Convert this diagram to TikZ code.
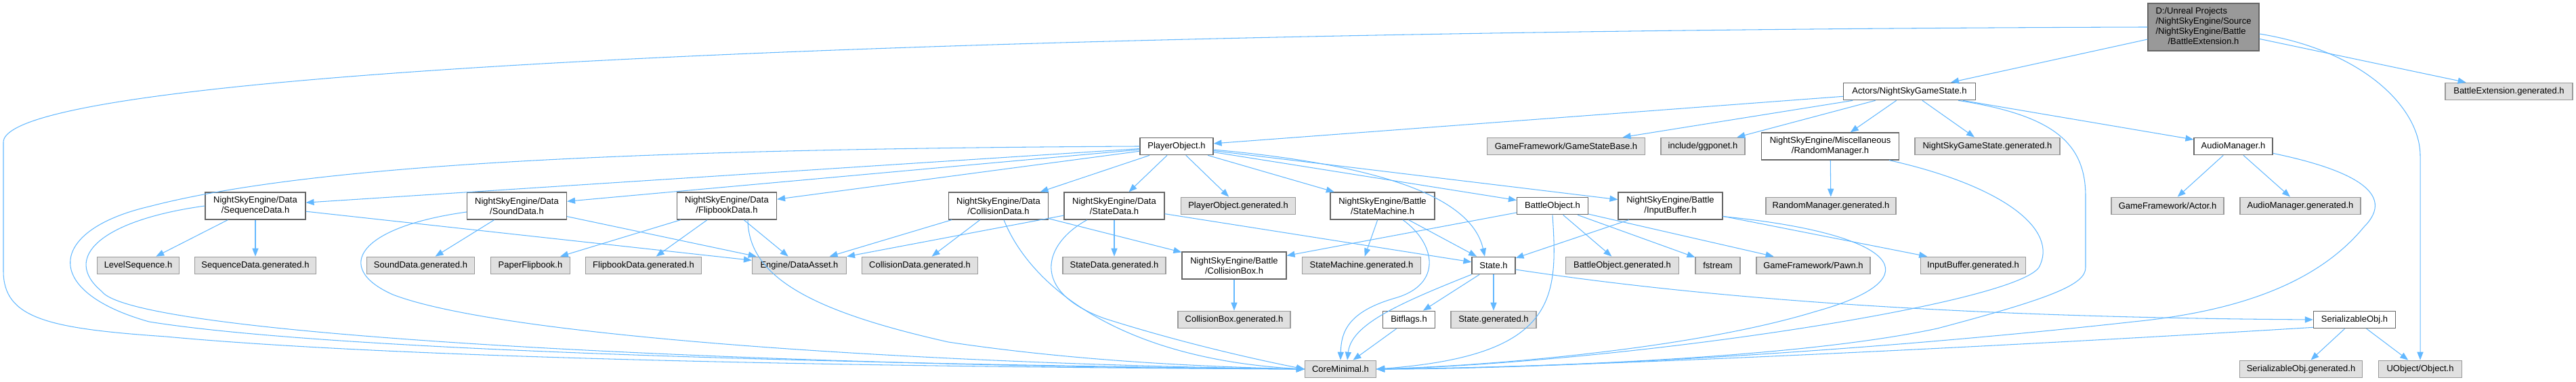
\documentclass[tikz,border=0pt]{standalone}
\usepackage{fontspec}
\setmainfont{Liberation Sans}
\usetikzlibrary{arrows.meta}
\definecolor{linkblue}{HTML}{63B8FF}
\definecolor{nodeborder}{HTML}{666666}
\definecolor{extborder}{HTML}{999999}
\definecolor{extfill}{HTML}{E0E0E0}
\definecolor{rootfill}{HTML}{999999}

\begin{document}
\begin{tikzpicture}[
    every node/.style={font=\fontsize{3.7}{4.3}\selectfont, inner sep=0pt, minimum height=0.255cm, line width=0.35pt},
    file/.style={draw=nodeborder, fill=white},
    extfile/.style={draw=extborder, fill=extfill},
    rootfile/.style={draw=nodeborder, fill=rootfill, minimum height=0.70cm},
    twoline/.style={minimum height=0.40cm, align=center},
    link/.style={draw=linkblue, line width=0.3pt, -{Triangle[length=3.4pt,width=2.6pt]}}
  ]
  \useasboundingbox (0,0) rectangle (38.03,-5.64);

  % Root file
  \node[rootfile, minimum width=1.64cm] (root) at (32.53,-0.40)
    {\begin{tabular}{@{}l@{}}D:/Unreal Projects\\/NightSkyEngine/Source\\/NightSkyEngine/Battle\\\multicolumn{1}{@{}c@{}}{/BattleExtension.h}\end{tabular}};

  % Row 1
  \node[file, minimum width=1.95cm] (gamestate) at (28.19,-1.35) {Actors/NightSkyGameState.h};
  \node[extfile, minimum width=1.88cm] (extgen) at (37.04,-1.35) {BattleExtension.generated.h};

  % Row 2
  \node[file, minimum width=1.08cm] (player) at (17.37,-2.16) {PlayerObject.h};
  \node[extfile, minimum width=2.33cm] (gsbase) at (23.12,-2.16) {GameFramework/GameStateBase.h};
  \node[extfile, minimum width=1.24cm] (ggpo) at (25.14,-2.16) {include/ggponet.h};
  \node[file, twoline, minimum width=2.03cm] (randmgr) at (27.02,-2.16) {NightSkyEngine/Miscellaneous\\/RandomManager.h};
  \node[extfile, minimum width=2.14cm] (gsgen) at (29.34,-2.16) {NightSkyGameState.generated.h};
  \node[file, minimum width=1.16cm] (audiomgr) at (32.97,-2.16) {AudioManager.h};

  % Row 3
  \node[file, twoline, minimum width=1.48cm] (seq) at (3.77,-3.04) {NightSkyEngine/Data\\/SequenceData.h};
  \node[file, twoline, minimum width=1.47cm] (sound) at (7.63,-3.04) {NightSkyEngine/Data\\/SoundData.h};
  \node[file, twoline, minimum width=1.47cm] (flipbook) at (10.73,-3.04) {NightSkyEngine/Data\\/FlipbookData.h};
  \node[file, twoline, minimum width=1.47cm] (colldata) at (14.74,-3.04) {NightSkyEngine/Data\\/CollisionData.h};
  \node[file, twoline, minimum width=1.48cm] (statedata) at (16.45,-3.04) {NightSkyEngine/Data\\/StateData.h};
  \node[extfile, minimum width=1.69cm] (playergen) at (18.28,-3.04) {PlayerObject.generated.h};
  \node[file, twoline, minimum width=1.54cm] (statemach) at (20.41,-3.04) {NightSkyEngine/Battle\\/StateMachine.h};
  \node[file, minimum width=1.05cm] (battleobj) at (22.92,-3.04) {BattleObject.h};
  \node[file, twoline, minimum width=1.54cm] (inputbuf) at (24.66,-3.04) {NightSkyEngine/Battle\\/InputBuffer.h};
  \node[extfile, minimum width=1.92cm] (randgen) at (27.03,-3.04) {RandomManager.generated.h};
  \node[extfile, minimum width=1.66cm] (actor) at (32.00,-3.04) {GameFramework/Actor.h};
  \node[extfile, minimum width=1.78cm] (audiogen) at (33.96,-3.04) {AudioManager.generated.h};

  % Row 4
  \node[extfile, minimum width=1.21cm] (levelseq) at (2.04,-3.92) {LevelSequence.h};
  \node[extfile, minimum width=1.79cm] (seqgen) at (3.77,-3.92) {SequenceData.generated.h};
  \node[extfile, minimum width=1.59cm] (soundgen) at (6.21,-3.92) {SoundData.generated.h};
  \node[extfile, minimum width=1.17cm] (paperfb) at (7.83,-3.92) {PaperFlipbook.h};
  \node[extfile, minimum width=1.71cm] (fbgen) at (9.50,-3.92) {FlipbookData.generated.h};
  \node[extfile, minimum width=1.39cm] (dataasset) at (11.80,-3.92) {Engine/DataAsset.h};
  \node[extfile, minimum width=1.71cm] (collgen) at (13.58,-3.92) {CollisionData.generated.h};
  \node[extfile, minimum width=1.52cm] (sdgen) at (16.45,-3.92) {StateData.generated.h};
  \node[file, twoline, minimum width=1.54cm] (collbox) at (18.22,-3.92) {NightSkyEngine/Battle\\/CollisionBox.h};
  \node[extfile, minimum width=1.75cm] (smgen) at (20.10,-3.92) {StateMachine.generated.h};
  \node[file, minimum width=0.64cm] (state) at (22.05,-3.92) {State.h};
  \node[extfile, minimum width=1.67cm] (bogen) at (23.95,-3.92) {BattleObject.generated.h};
  \node[extfile, minimum width=0.66cm] (fstream) at (25.36,-3.92) {fstream};
  \node[extfile, minimum width=1.68cm] (pawn) at (26.77,-3.92) {GameFramework/Pawn.h};
  \node[extfile, minimum width=1.55cm] (inputgen) at (29.13,-3.92) {InputBuffer.generated.h};

  % Row 5
  \node[extfile, minimum width=1.66cm] (cbgen) at (18.22,-4.72) {CollisionBox.generated.h};
  \node[file, minimum width=0.77cm] (bitflags) at (20.80,-4.72) {Bitflags.h};
  \node[extfile, minimum width=1.26cm] (stategen) at (22.05,-4.72) {State.generated.h};
  \node[file, minimum width=1.21cm] (serobj) at (34.76,-4.72) {SerializableObj.h};

  % Row 6
  \node[extfile, minimum width=1.05cm] (coremin) at (19.79,-5.45) {CoreMinimal.h};
  \node[extfile, minimum width=1.81cm] (serobjgen) at (33.97,-5.45) {SerializableObj.generated.h};
  \node[extfile, minimum width=1.23cm] (uobject) at (35.73,-5.45) {UObject/Object.h};

  % BattleExtension.h
  \draw[link] (root) -- (gamestate);
  \draw[link] (root) -- (extgen);
  \draw[link] ([yshift=-0.1cm]root.east) .. controls (34.9,-0.75) and (35.73,-1.6) .. (35.73,-2.3) -- (uobject);
  \draw[link] (root.west) .. controls (15,-0.45) and (0.05,-1.0) .. (0.05,-2.1) -- (0.05,-4.0)
    .. controls (0.05,-4.7) and (0.7,-4.85) .. (2.45,-4.97) .. controls (6,-5.3) and (13,-5.42) .. (coremin.west);

  % Actors/NightSkyGameState.h
  \draw[link] (gamestate) -- (player);
  \draw[link] (gamestate) -- (gsbase);
  \draw[link] (gamestate) -- (ggpo);
  \draw[link] (gamestate) -- (randmgr);
  \draw[link] (gamestate) -- (gsgen);
  \draw[link] (gamestate) -- (audiomgr);
  \draw[link] ([xshift=0.72cm]gamestate.south) .. controls (30.3,-1.7) and (30.79,-2.1) .. (30.79,-2.9) -- (30.79,-3.95)
    .. controls (30.79,-4.2) and (30.3,-4.4) .. (28.6,-4.85) .. controls (26.5,-5.3) and (22.5,-5.43) .. (coremin.east);

  % PlayerObject.h
  \draw[link] (player) -- (seq);
  \draw[link] (player) -- (sound);
  \draw[link] (player) -- (flipbook);
  \draw[link] (player) -- (colldata);
  \draw[link] (player) -- (statedata);
  \draw[link] (player) -- (playergen);
  \draw[link] (player) -- (statemach);
  \draw[link] (player) -- (battleobj);
  \draw[link] (player) -- (inputbuf);
  \draw[link] ([yshift=-0.05cm]player.east) .. controls (20,-2.4) and (21.7,-2.8) .. ([xshift=-0.13cm]state.north);
  \draw[link] (player.west) .. controls (9,-2.2) and (4.5,-2.45) .. (2.2,-3.05) .. controls (0.7,-3.4) and (0.6,-4.3) .. (2.2,-4.75)
    .. controls (5,-5.2) and (13,-5.38) .. (coremin.west);

  % RandomManager.h, AudioManager.h
  \draw[link] (randmgr) -- (randgen);
  \draw[link] ([xshift=0.87cm]randmgr.south) .. controls (29.6,-2.75) and (30.4,-3.4) .. (30.1,-3.95)
    .. controls (29.7,-4.5) and (24,-5.35) .. (coremin.east);
  \draw[link] (audiomgr) -- (actor);
  \draw[link] (audiomgr) -- (audiogen);
  \draw[link] ([yshift=0.03cm]audiomgr.south east) .. controls (34.7,-2.5) and (35.4,-2.85) .. (34.9,-3.35)
    .. controls (34.2,-4.2) and (33,-4.6) .. (31.5,-4.75) .. controls (27,-5.25) and (22.5,-5.45) .. (coremin.east);

  % Data headers
  \draw[link] (seq) -- (levelseq);
  \draw[link] (seq) -- (seqgen);
  \draw[link] (seq) -- (dataasset);
  \draw[link] (seq.west) .. controls (1.5,-3.25) and (0.9,-3.8) .. (1.5,-4.3) .. controls (2.0,-5.0) and (12,-5.42) .. (coremin.west);
  \draw[link] (sound) -- (soundgen);
  \draw[link] (sound) -- (dataasset);
  \draw[link] ([yshift=-0.09cm]sound.west) .. controls (5.3,-3.35) and (4.9,-3.95) .. (5.8,-4.35)
    .. controls (7.5,-5.0) and (14,-5.38) .. (coremin.west);
  \draw[link] (flipbook) -- (paperfb);
  \draw[link] (flipbook) -- (fbgen);
  \draw[link] (flipbook) -- (dataasset);
  \draw[link] ([xshift=0.31cm]flipbook.south) .. controls (11.05,-4.1) and (12,-4.6) .. (14,-5.05)
    .. controls (16,-5.35) and (18,-5.42) .. (coremin.west);
  \draw[link] (colldata) -- (dataasset);
  \draw[link] (colldata) -- (collgen);
  \draw[link] (colldata) -- (collbox);
  \draw[link] ([xshift=0.08cm]colldata.south) .. controls (15.2,-4.2) and (16.5,-5.3) .. (coremin.west);
  \draw[link] (statedata) -- (dataasset);
  \draw[link] (statedata) -- (sdgen);
  \draw[link] (statedata) -- (state);
  \draw[link] ([xshift=-0.40cm]statedata.south) .. controls (15.4,-3.6) and (15.2,-4.3) .. (16.3,-4.7)
    .. controls (17.4,-5.05) and (18.5,-5.3) .. (coremin.west);
  \draw[link] (collbox) -- (cbgen);

  % Battle headers
  \draw[link] (statemach) -- (smgen);
  \draw[link] (statemach) -- (state);
  \draw[link] ([xshift=0.3cm]statemach.south) .. controls (21.2,-3.6) and (21.3,-4.2) .. (20.6,-4.4)
    .. controls (19.9,-4.6) and (19.8,-4.9) .. (coremin.north);
  \draw[link] (battleobj) -- (collbox);
  \draw[link] (battleobj) -- (bogen);
  \draw[link] (battleobj) -- (fstream);
  \draw[link] (battleobj) -- (pawn);
  \draw[link] (battleobj.south) .. controls (23.0,-4.4) and (23.0,-5.25) .. (coremin.east);
  \draw[link] (inputbuf) -- (state);
  \draw[link] (inputbuf) -- (inputgen);
  \draw[link] ([yshift=0.05cm]inputbuf.south east) .. controls (28.0,-3.45) and (28.6,-4.1) .. (26.8,-4.6)
    .. controls (25,-5.15) and (22,-5.4) .. (coremin.east);

  % State.h
  \draw[link] (state) -- (bitflags);
  \draw[link] (state) -- (stategen);
  \draw[link] ([yshift=-0.06cm]state.east) .. controls (24.5,-4.3) and (28,-4.68) .. (serobj.west);
  \draw[link] (state.south west) .. controls (20.6,-4.5) and (19.95,-4.8) .. ([xshift=0.1cm]coremin.north);
  \draw[link] (bitflags) -- (coremin);

  % SerializableObj.h
  \draw[link] (serobj) -- (serobjgen);
  \draw[link] (serobj) -- (uobject);
  \draw[link] ([yshift=0.02cm]serobj.south west) .. controls (29,-5.15) and (23,-5.43) .. (coremin.east);

\end{tikzpicture}
\end{document}
